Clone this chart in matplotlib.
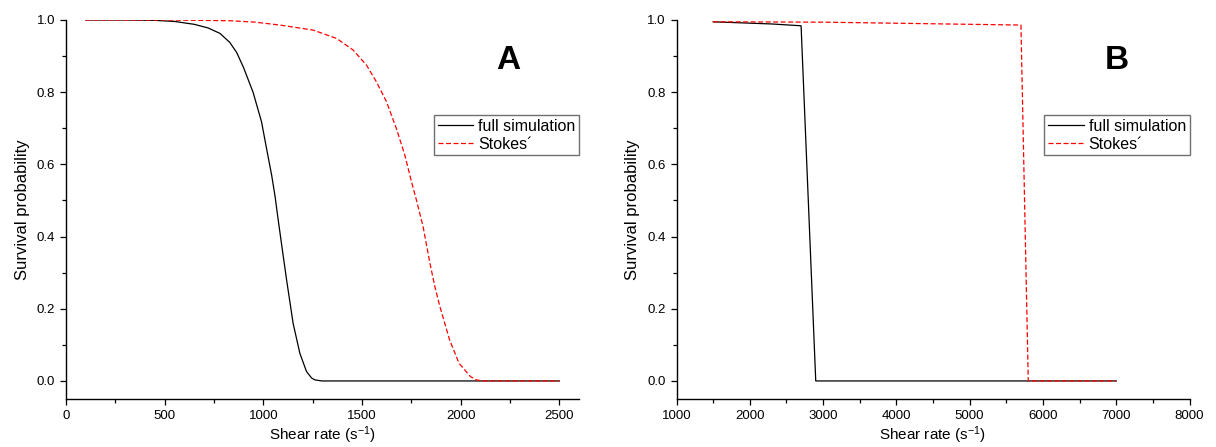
import matplotlib.pyplot as plt
from matplotlib.ticker import MultipleLocator

plt.rcParams['font.family'] = ['Liberation Sans', 'DejaVu Sans']
plt.rcParams['mathtext.fontset'] = 'custom'
plt.rcParams['mathtext.rm'] = 'Liberation Sans'
plt.rcParams['mathtext.default'] = 'regular'

# Panel A: survival probability vs shear rate
shear_a_full = [100, 300, 450, 550, 650, 720, 780, 830, 865, 900, 948, 991, 1016, 1042,
                1060, 1072, 1092, 1118, 1151, 1185, 1219, 1245, 1261, 1297, 2500]
surv_a_full = [1.0, 1.0, 0.999, 0.996, 0.988, 0.978, 0.963, 0.938, 0.91, 0.868, 0.80,
               0.718, 0.645, 0.571, 0.51, 0.46, 0.381, 0.28, 0.16, 0.077, 0.026, 0.008,
               0.003, 0.0, 0.0]
shear_a_stokes = [100, 500, 830, 960, 1084, 1253, 1371, 1455, 1523, 1573, 1624, 1674, 1717,
                  1751, 1779, 1810, 1843, 1870, 1895, 1944, 1992, 2050, 2080, 2110, 2500]
surv_a_stokes = [1.0, 1.0, 0.998, 0.994, 0.986, 0.972, 0.949, 0.917, 0.875, 0.829, 0.774,
                 0.70, 0.626, 0.552, 0.495, 0.427, 0.33, 0.26, 0.206, 0.114, 0.049, 0.012,
                 0.003, 0.0, 0.0]

# Panel B
shear_b_full = [1500, 2300, 2700, 2900, 7000]
surv_b_full = [0.995, 0.989, 0.984, 0.0, 0.0]
shear_b_stokes = [1500, 3000, 5700, 5800, 7000]
surv_b_stokes = [0.995, 0.994, 0.986, 0.0, 0.0]

fig = plt.figure(figsize=(12.16, 4.47), dpi=100)
W, H = 1216, 447


def make_axes(x0, x1, y_top=20, y_bot=399):
    return fig.add_axes([x0 / W, (H - y_bot) / H, (x1 - x0) / W, (y_bot - y_top) / H])


def style(ax, xlim, xmajor, xminor):
    ax.set_xlim(*xlim)
    ax.set_ylim(-0.05, 1.0)
    ax.spines['top'].set_visible(False)
    ax.spines['right'].set_visible(False)
    for s in ('left', 'bottom'):
        ax.spines[s].set_linewidth(1.0)
    ax.xaxis.set_major_locator(MultipleLocator(xmajor))
    ax.xaxis.set_minor_locator(MultipleLocator(xminor))
    ax.yaxis.set_major_locator(MultipleLocator(0.2))
    ax.yaxis.set_minor_locator(MultipleLocator(0.1))
    ax.yaxis.set_major_formatter(plt.FuncFormatter(lambda v, p: f'{v:.1f}'))
    ax.tick_params(which='major', direction='out', length=4.3, width=0.9,
                   labelsize=9.5, pad=3.5)
    ax.tick_params(which='minor', direction='out', length=2.8, width=0.9)
    ax.set_xlabel('Shear rate (s$^{-1}$)', fontsize=11, labelpad=2)
    ax.set_ylabel('Survival probability', fontsize=12, labelpad=5)
    leg = ax.legend(loc='upper right', bbox_to_anchor=(1.0, 0.749), fontsize=11.5,
                    fancybox=False, framealpha=1, edgecolor='#707070',
                    handlelength=2.25, borderpad=0.22, labelspacing=0.2,
                    handletextpad=0.3, borderaxespad=0)
    leg.get_frame().set_linewidth(1.0)


ax_a = make_axes(66, 579)
ax_a.plot(shear_a_full, surv_a_full, color='black', lw=0.9, label='full simulation')
ax_a.plot(shear_a_stokes, surv_a_stokes, color='red', lw=0.9, ls=(0, (4, 2)), label='Stokes´')
style(ax_a, (0, 2600), 500, 250)
ax_a.text(0.862, 0.893, 'A', transform=ax_a.transAxes, fontsize=24, fontweight='bold',
          ha='center', va='center')

ax_b = make_axes(676.5, 1189.5)
ax_b.plot(shear_b_full, surv_b_full, color='black', lw=0.9, label='full simulation')
ax_b.plot(shear_b_stokes, surv_b_stokes, color='red', lw=0.9, ls=(0, (4, 2)), label='Stokes´')
style(ax_b, (1000, 8000), 1000, 500)
ax_b.text(0.858, 0.893, 'B', transform=ax_b.transAxes, fontsize=24, fontweight='bold',
          ha='center', va='center')

fig.savefig('out.png', dpi=100)
